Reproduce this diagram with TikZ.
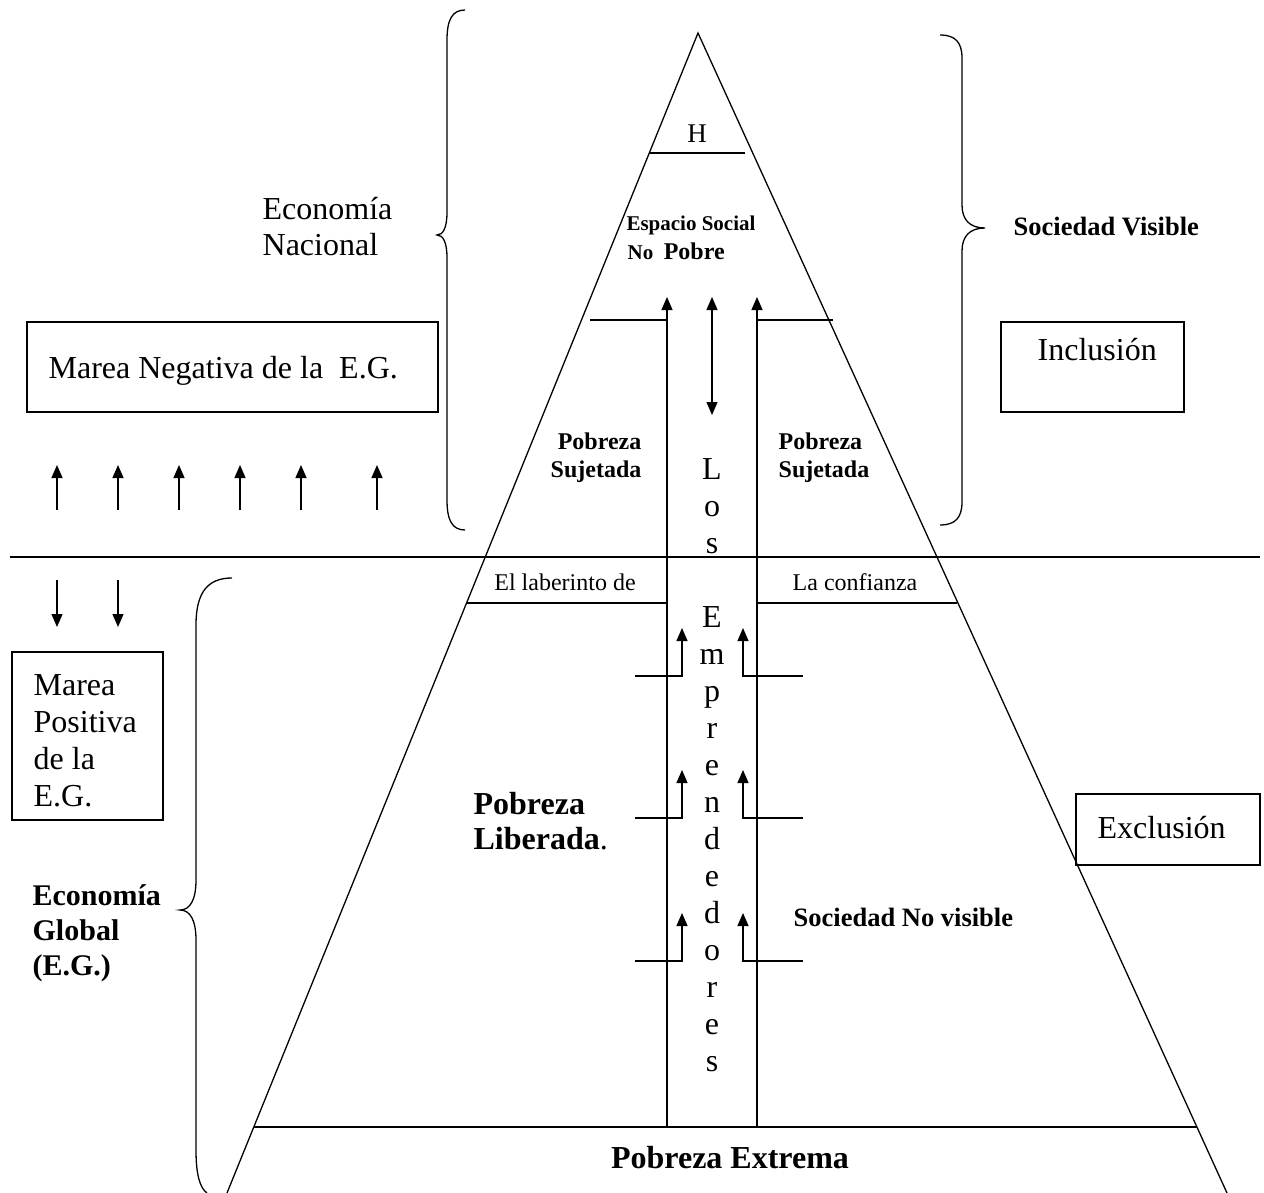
\documentclass[tikz,border=0pt]{standalone}
\usepackage{fontspec}
\setmainfont{Liberation Serif}
\usetikzlibrary{arrows.meta,calc}
\begin{document}
\begin{tikzpicture}[x=1pt,y=-1pt,line width=1.3pt,
  uptip/.style={-{Triangle[length=13pt,width=11pt]}},
  bothtip/.style={{Triangle[length=13pt,width=11pt]}-{Triangle[length=13pt,width=11pt]}},
  txt/.style={inner sep=0pt,font=\fontsize{32}{37}\selectfont},
  txtb/.style={inner sep=0pt,font=\fontsize{30}{35}\bfseries\selectfont},
  lab/.style={inner sep=0pt,font=\fontsize{26.5}{30}\bfseries\selectfont},
  small/.style={inner sep=0pt,font=\fontsize{24}{28}\selectfont},
  smallb/.style={inner sep=0pt,font=\fontsize{24}{28}\bfseries\selectfont},
  tinyb/.style={inner sep=0pt,font=\fontsize{21}{24}\bfseries\selectfont},
  box/.style={draw,line width=1.3pt}]
\useasboundingbox (0,0) rectangle (1264,1193);
% triangle
\coordinate (apex) at (698,33);
\coordinate (bl) at (227,1193);
\coordinate (br) at (1227,1193);
\draw (bl) -- (apex) -- (br);
% horizontal divider
\coordinate (hl) at (10,557);
\coordinate (hr) at (1260,557);
\draw (hl) -- (hr);
% H line
\coordinate (h1) at (650,153);
\coordinate (h2) at (745,153);
\draw (h1) -- (h2);
\node[inner sep=0pt,anchor=base,font=\fontsize{27}{30}\selectfont] (hlab) at (697,143) {H};
% Espacio social
\node[tinyb,anchor=base] (esp) at (691,231) {Espacio Social};
\node[inner sep=0pt,anchor=base west] (nopobre) at (627,259) {\fontsize{21}{24}\bfseries\selectfont No\ \ \fontsize{24}{28}\selectfont Pobre};
% verticals
\coordinate (vl0) at (667,1127);
\coordinate (vl1) at (667,297);
\coordinate (vr0) at (757,1127);
\coordinate (vr1) at (757,297);
\draw[uptip] (vl0) -- (vl1);
\draw[uptip] (vr0) -- (vr1);
\coordinate (da1) at (712,297);
\coordinate (da2) at (712,415);
\draw[bothtip] (da2) -- (da1);
% stubs at 320
\coordinate (sl) at (590,320);
\coordinate (sr) at (833,320);
\draw (sl) -- (667,320);
\draw (757,320) -- (sr);
% lines at 603
\coordinate (ll) at (467,603);
\coordinate (lr) at (957,603);
\draw (ll) -- (667,603);
\draw (757,603) -- (lr);
% bottom line
\coordinate (bbl) at (254,1127);
\coordinate (bbr) at (1197,1127);
\draw (bbl) -- (bbr);
% stair arrows
\foreach \y/\n in {676/a,818/b,961/c}{
  \coordinate (sa\n) at (635,\y);
  \coordinate (sb\n) at (803,\y);
  \draw[uptip] (sa\n) -- (682,\y) -- (682,\y-48);
  \draw[uptip] (sb\n) -- (743,\y) -- (743,\y-48);
}
% Los Emprendedores
\foreach \ch/\k in {L/0,o/1,s/2,E/4,m/5,p/6,r/7,e/8,n/9,d/10,e/11,d/12,o/13,r/14,e/15,s/16}{
  \node[txt,anchor=base] (em\k) at (712,479+37*\k) {\ch};
}
% Pobreza Sujetada
\node[smallb,anchor=base east] (psl1) at (642,449) {Pobreza};
\node[smallb,anchor=base east] (psl2) at (642,477) {Sujetada};
\node[smallb,anchor=base west] (psr1) at (778,449) {Pobreza};
\node[smallb,anchor=base west] (psr2) at (778,477) {Sujetada};
% laberinto / confianza
\node[small,anchor=base] (lab1) at (565,590) {El laberinto de};
\node[small,anchor=base] (conf) at (855,590) {La confianza};
% Pobreza Liberada
\node[inner sep=0pt,anchor=base west,font=\fontsize{32}{37}\bfseries\selectfont] (pl1) at (473,814) {Pobreza};
\node[inner sep=0pt,anchor=base west,font=\fontsize{32}{37}\selectfont] (pl2) at (473,849) {\textbf{Liberada}.};
\node[lab,anchor=base west] (snv) at (793,926) {Sociedad No visible};
\node[inner sep=0pt,anchor=base,font=\fontsize{32}{37}\bfseries\selectfont] (pe) at (730,1168) {Pobreza Extrema};
% Exclusion / Inclusion boxes
\draw[box] (1076,794) rectangle (1260,865);
\node[txt,anchor=base west] (excl) at (1097,838) {Exclusión};
\draw[box] (1001,322) rectangle (1184,412);
\node[txt,anchor=base west] (incl) at (1037,360) {Inclusión};
% Sociedad visible + brace
\node[lab,anchor=base west] (sv) at (1013,236) {Sociedad Visible};
\draw (940,35) .. controls (955,35) and (962,42) .. (962,58)
  -- (962,205) .. controls (962,220) and (970,228) .. (985,228)
  .. controls (970,228) and (962,236) .. (962,251)
  -- (962,502) .. controls (962,518) and (955,525) .. (940,525);
% Economia Nacional + brace
\node[txt,anchor=base west] (en1) at (262,220) {Economía};
\node[txt,anchor=base west] (en2) at (262,256) {Nacional};
\draw (465,10) .. controls (452,10) and (447,20) .. (447,40)
  -- (447,212) .. controls (447,228) and (443,235) .. (437,235)
  .. controls (443,235) and (447,242) .. (447,258)
  -- (447,500) .. controls (447,520) and (452,530) .. (465,530);
% Marea negativa
\draw[box] (27,322) rectangle (438,412);
\node[txt,anchor=base west] (mn) at (48,378) {Marea Negativa de la\ \ E.G.};
\foreach \x/\n in {57/1,118/2,179/3,240/4,301/5,377/6}{
  \coordinate (ua\n) at (\x,510);
  \coordinate (ub\n) at (\x,465);
  \draw[uptip] (ua\n) -- (ub\n);
}
% down arrows
\foreach \x/\n in {57/1,118/2}{
  \coordinate (da\n a) at (\x,580);
  \coordinate (da\n b) at (\x,627);
  \draw[uptip] (da\n a) -- (da\n b);
}
% Marea positiva
\draw[box] (12,652) rectangle (163,820);
\node[txt,anchor=base west] (mp1) at (33,695) {Marea};
\node[txt,anchor=base west] (mp2) at (33,732) {Positiva};
\node[txt,anchor=base west] (mp3) at (33,769) {de la};
\node[txt,anchor=base west] (mp4) at (33,806) {E.G.};
% Economia Global + brace
\node[txtb,anchor=base west] (eg1) at (32,905) {Economía};
\node[txtb,anchor=base west] (eg2) at (32,940) {Global};
\node[txtb,anchor=base west] (eg3) at (32,975) {(E.G.)};
\draw (232,578) .. controls (208,578) and (196,592) .. (196,625)
  -- (196,880) .. controls (196,900) and (190,910) .. (180,910)
  .. controls (190,910) and (196,920) .. (196,940)
  -- (196,1150) .. controls (196,1175) and (200,1188) .. (207,1193);
\end{tikzpicture}
\end{document}
